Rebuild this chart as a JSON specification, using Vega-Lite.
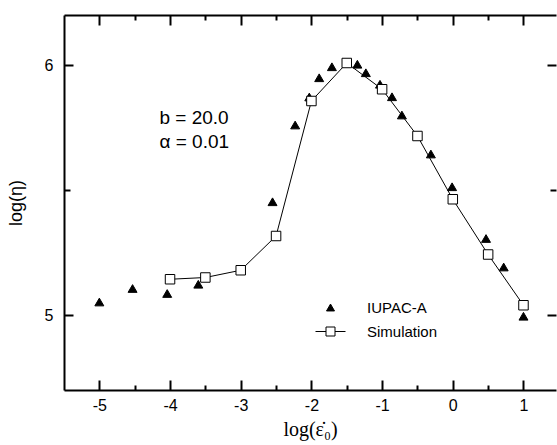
{
  "$schema": "https://vega.github.io/schema/vega-lite/v6.json",
  "width": 492,
  "height": 375,
  "autosize": {"type": "none"},
  "padding": {"left": 64, "top": 15, "right": 1, "bottom": 55},
  "background": "white",
  "view": {"stroke": null},
  "config": {
    "font": "Liberation Sans",
    "axis": {
      "grid": false,
      "domainColor": "black",
      "domainWidth": 2,
      "tickColor": "black",
      "tickWidth": 2,
      "labelColor": "black",
      "titleColor": "black",
      "labelFont": "Liberation Sans",
      "labelFontSize": 16
    }
  },
  "datasets": {
    "iupac": [
      {"log_rate": -5.0, "log_eta": 5.052, "series": "IUPAC-A"},
      {"log_rate": -4.53, "log_eta": 5.106, "series": "IUPAC-A"},
      {"log_rate": -4.04, "log_eta": 5.086, "series": "IUPAC-A"},
      {"log_rate": -3.6, "log_eta": 5.123, "series": "IUPAC-A"},
      {"log_rate": -2.55, "log_eta": 5.453, "series": "IUPAC-A"},
      {"log_rate": -2.23, "log_eta": 5.76, "series": "IUPAC-A"},
      {"log_rate": -2.03, "log_eta": 5.872, "series": "IUPAC-A"},
      {"log_rate": -1.89, "log_eta": 5.949, "series": "IUPAC-A"},
      {"log_rate": -1.71, "log_eta": 5.993, "series": "IUPAC-A"},
      {"log_rate": -1.35, "log_eta": 6.003, "series": "IUPAC-A"},
      {"log_rate": -1.23, "log_eta": 5.969, "series": "IUPAC-A"},
      {"log_rate": -1.03, "log_eta": 5.923, "series": "IUPAC-A"},
      {"log_rate": -0.86, "log_eta": 5.873, "series": "IUPAC-A"},
      {"log_rate": -0.72, "log_eta": 5.8, "series": "IUPAC-A"},
      {"log_rate": -0.31, "log_eta": 5.644, "series": "IUPAC-A"},
      {"log_rate": -0.01, "log_eta": 5.513, "series": "IUPAC-A"},
      {"log_rate": 0.47, "log_eta": 5.306, "series": "IUPAC-A"},
      {"log_rate": 0.72, "log_eta": 5.192, "series": "IUPAC-A"},
      {"log_rate": 1.0, "log_eta": 4.995, "series": "IUPAC-A"}
    ],
    "sim": [
      {"log_rate": -4.0, "log_eta": 5.143, "series": "Simulation"},
      {"log_rate": -3.5, "log_eta": 5.15, "series": "Simulation"},
      {"log_rate": -3.0, "log_eta": 5.179, "series": "Simulation"},
      {"log_rate": -2.5, "log_eta": 5.316, "series": "Simulation"},
      {"log_rate": -2.0, "log_eta": 5.856, "series": "Simulation"},
      {"log_rate": -1.5, "log_eta": 6.008, "series": "Simulation"},
      {"log_rate": -1.0, "log_eta": 5.903, "series": "Simulation"},
      {"log_rate": -0.5, "log_eta": 5.716, "series": "Simulation"},
      {"log_rate": 0.0, "log_eta": 5.463, "series": "Simulation"},
      {"log_rate": 0.5, "log_eta": 5.242, "series": "Simulation"},
      {"log_rate": 1.0, "log_eta": 5.039, "series": "Simulation"}
    ],
    "notes": [
      {"log_rate": -4.15, "log_eta": 5.788, "label": "b = 20.0"},
      {"log_rate": -4.15, "log_eta": 5.694, "label": "α = 0.01"}
    ]
  },
  "layer": [
    {
      "data": {"name": "iupac"},
      "mark": {"type": "point", "filled": true, "size": 80, "strokeWidth": 1, "opacity": 1},
      "encoding": {
        "x": {
          "field": "log_rate", "type": "quantitative",
          "scale": {"domain": [-5.5, 1.46], "nice": false, "zero": false},
          "axis": {
            "orient": "top", "title": null, "labels": false, "domain": true,
            "values": [-5, -4, -3, -2, -1, 0, 1],
            "tickSize": -10
          }
        },
        "y": {
          "field": "log_eta", "type": "quantitative",
          "scale": {"domain": [4.7, 6.2], "nice": false, "zero": false},
          "axis": {
            "orient": "right", "title": null, "labels": false, "domain": false,
            "values": [5, 6],
            "tickSize": -9
          }
        },
        "shape": {
          "field": "series", "type": "nominal",
          "scale": {"domain": ["IUPAC-A", "Simulation"], "range": ["triangle-up", "M-3.75,0H-1.125M1.125,0H3.75M-1.125,-1.125H1.125V1.125H-1.125Z"]},
          "legend": {
            "orient": "none", "legendX": 259, "legendY": 285,
            "title": null, "symbolSize": 64, "labelFontSize": 15,
            "labelFont": "Liberation Sans", "labelColor": "black",
            "labelOffset": 29, "rowPadding": 8,
            "symbolStrokeWidth": 1, "symbolOpacity": 1
          }
        },
        "fill": {
          "field": "series", "type": "nominal",
          "scale": {"domain": ["IUPAC-A", "Simulation"], "range": ["black", "white"]},
          "legend": {
            "orient": "none", "legendX": 259, "legendY": 285,
            "title": null, "symbolSize": 64, "labelFontSize": 15,
            "labelFont": "Liberation Sans", "labelColor": "black",
            "labelOffset": 29, "rowPadding": 8,
            "symbolStrokeWidth": 1, "symbolOpacity": 1
          }
        },
        "stroke": {
          "field": "series", "type": "nominal",
          "scale": {"domain": ["IUPAC-A", "Simulation"], "range": ["black", "black"]},
          "legend": {
            "orient": "none", "legendX": 259, "legendY": 285,
            "title": null, "symbolSize": 64, "labelFontSize": 15,
            "labelFont": "Liberation Sans", "labelColor": "black",
            "labelOffset": 29, "rowPadding": 8,
            "symbolStrokeWidth": 1, "symbolOpacity": 1
          }
        }
      }
    },
    {
      "data": {"name": "sim"},
      "mark": {"type": "line", "color": "black", "strokeWidth": 1},
      "encoding": {
        "x": {
          "field": "log_rate", "type": "quantitative",
          "axis": {
            "orient": "bottom", "title": "log(ε̇₀)",
            "titleFont": "Liberation Serif", "titleFontSize": 20, "titleFontWeight": "normal",
            "titlePadding": 6,
            "values": [-5, -4, -3, -2, -1, 0, 1],
            "labelExpr": "'' + datum.value",
            "tickSize": -10,
            "labelPadding": 17
          }
        },
        "y": {
          "field": "log_eta", "type": "quantitative",
          "axis": {
            "orient": "left", "title": "log(η)",
            "titleFont": "Liberation Sans", "titleFontSize": 18, "titleFontWeight": "normal",
            "titlePadding": 19,
            "values": [5, 6],
            "labelExpr": "'' + datum.value",
            "tickSize": -9,
            "labelPadding": 20
          }
        }
      }
    },
    {
      "data": {"name": "sim"},
      "mark": {"type": "point", "shape": "square", "filled": true, "fill": "white", "stroke": "black", "strokeWidth": 1, "size": 90, "opacity": 1},
      "encoding": {
        "x": {
          "field": "log_rate", "type": "quantitative",
          "axis": {
            "orient": "bottom", "title": null, "labels": false, "domain": false,
            "values": [-4.5, -3.5, -2.5, -1.5, -0.5, 0.5],
            "tickSize": -5
          }
        },
        "y": {
          "field": "log_eta", "type": "quantitative",
          "axis": {
            "orient": "left", "title": null, "labels": false, "domain": false,
            "values": [5.5],
            "tickSize": -6
          }
        }
      }
    },
    {
      "data": {"name": "notes"},
      "mark": {"type": "text", "align": "left", "baseline": "middle", "fontSize": 19, "font": "Liberation Sans", "color": "black"},
      "encoding": {
        "x": {
          "field": "log_rate", "type": "quantitative",
          "axis": {
            "orient": "top", "title": null, "labels": false, "domain": false,
            "values": [-4.5, -3.5, -2.5, -1.5, -0.5, 0.5],
            "tickSize": -5
          }
        },
        "y": {
          "field": "log_eta", "type": "quantitative",
          "axis": {
            "orient": "right", "title": null, "labels": false, "domain": false,
            "values": [5.5],
            "tickSize": -6
          }
        },
        "text": {"field": "label"}
      }
    }
  ],
  "resolve": {"axis": {"x": "independent", "y": "independent"}}
}
